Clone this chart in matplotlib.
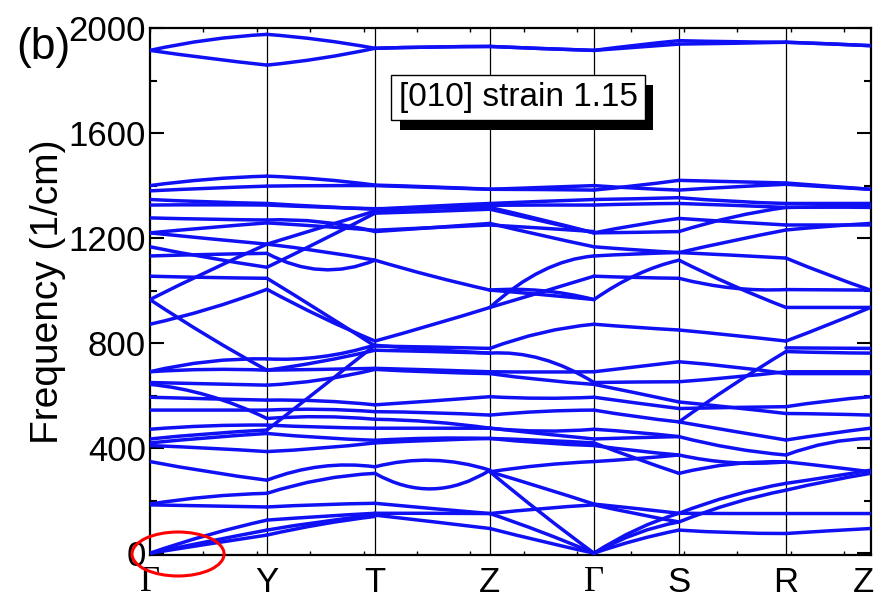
import matplotlib
matplotlib.use("Agg")
import matplotlib.pyplot as plt
import matplotlib.patheffects as pe
from matplotlib.path import Path
from matplotlib.patches import PathPatch, Ellipse
from matplotlib.ticker import MultipleLocator
from matplotlib.transforms import offset_copy

# high-symmetry points (path length, in arbitrary units)
k_nodes = [0.0, 117.0, 225.0, 340.0, 444.0, 529.0, 636.0, 720.5]
k_labels = ["\u0393", "Y", "T", "Z", "\u0393", "S", "R", "Z"]

# each branch piece: (freq at segment start, freq at middle, freq at segment end), 1/cm
seg_gamma_y = [
    (1915, 1955, 1976), (1915, 1885, 1859),
    (1400, 1424, 1436), (1380, 1390, 1398), (1347, 1338, 1332), (1326, 1327, 1326),
    (1277, 1272, 1269), (1220, 1240, 1258), (1220, 1198, 1177), (1167, 1125, 1089),
    (1132, 1138, 1142), (1055, 1050, 1047), (966, 1075, 1177), (966, 825, 697),
    (872, 930, 1005),
    (691, 730, 740), (691, 700, 697), (650, 645, 640), (643, 600, 513), (594, 588, 583),
    (545, 545, 545), (472, 485, 488), (435, 455, 469), (420, 440, 456), (410, 400, 387),
    (349, 310, 278), (187, 215, 228), (184, 180, 176), (0, 70, 126), (0, 45, 88), (0, 35, 69),
]
seg_y_t = [
    (1976, 1955, 1923), (1859, 1885, 1923),
    (1436, 1424, 1402), (1398, 1400, 1400), (1332, 1320, 1310), (1326, 1318, 1312),
    (1269, 1262, 1225), (1258, 1245, 1230), (1177, 1240, 1303), (1177, 1150, 1116),
    (1142, 1080, 1116), (1089, 1190, 1295), (1047, 920, 789), (1005, 900, 808),
    (740, 748, 793), (697, 730, 773), (697, 700, 704), (640, 660, 700), (583, 580, 565),
    (545, 548, 539), (513, 520, 510), (469, 630, 792), (488, 480, 476), (456, 440, 430),
    (387, 400, 420), (278, 330, 329), (228, 280, 304), (176, 185, 190), (126, 140, 152),
    (88, 120, 145), (69, 110, 140),
]
seg_t_z = [
    (1923, 1928, 1930), (1923, 1928, 1930),
    (1402, 1395, 1386), (1400, 1393, 1386), (1310, 1322, 1332), (1312, 1315, 1317),
    (1303, 1315, 1325), (1295, 1302, 1310), (1225, 1240, 1256), (1230, 1240, 1250),
    (1116, 1055, 1002), (808, 870, 936), (789, 785, 780),
    (792, 775, 762), (773, 768, 762), (704, 698, 691), (700, 690, 684), (565, 580, 596),
    (539, 535, 526), (510, 500, 476), (476, 476, 476), (430, 438, 437), (420, 430, 437),
    (304, 245, 316), (329, 354, 316), (190, 170, 151), (152, 152, 151), (145, 120, 94),
]
seg_z_gamma = [
    (1930, 1922, 1915), (1930, 1922, 1915),
    (1386, 1385, 1383), (1386, 1393, 1400), (1332, 1340, 1347), (1325, 1326, 1326),
    (1317, 1270, 1220), (1310, 1265, 1220), (1256, 1210, 1167), (1250, 1238, 1225),
    (1002, 1000, 966), (1002, 985, 966), (936, 1075, 1132), (936, 995, 1055), (780, 840, 872),
    (762, 740, 650), (691, 690, 691), (684, 660, 643), (596, 590, 594), (526, 540, 545),
    (476, 465, 472), (476, 455, 435), (437, 430, 420), (437, 420, 410), (310, 335, 349),
    (310, 250, 187), (151, 170, 184), (94, 45, 0), (151, 80, 0), (310, 150, 0),
]
seg_gamma_s = [
    (1915, 1935, 1952), (1915, 1927, 1939),
    (1383, 1400, 1420), (1400, 1390, 1383), (1347, 1350, 1354), (1326, 1330, 1332),
    (1220, 1250, 1275), (1220, 1222, 1225), (1167, 1155, 1145), (1132, 1140, 1145),
    (1055, 1050, 1047), (966, 1060, 1116), (872, 860, 850),
    (691, 710, 729), (650, 652, 653), (643, 610, 576), (594, 572, 551), (545, 520, 500),
    (472, 460, 444), (435, 440, 444), (420, 360, 304), (349, 360, 374), (410, 390, 374),
    (187, 170, 152), (184, 150, 119), (0, 75, 119), (0, 50, 88), (0, 90, 152),
]
seg_s_r = [
    (1952, 1948, 1946), (1939, 1942, 1946),
    (1420, 1415, 1410), (1383, 1395, 1405), (1354, 1340, 1332), (1332, 1325, 1317),
    (1275, 1262, 1250), (1225, 1280, 1317), (1145, 1190, 1231), (1145, 1135, 1124),
    (1116, 1020, 936), (1047, 1010, 1004), (850, 830, 808),
    (729, 710, 684), (653, 670, 691), (500, 640, 768), (576, 555, 532), (551, 555, 558),
    (500, 465, 431), (444, 400, 374), (374, 345, 348), (304, 340, 348),
    (152, 220, 266), (119, 190, 240), (152, 151, 151), (88, 78, 75),
]
seg_r_z = [
    (1946, 1940, 1933), (1946, 1940, 1933),
    (1410, 1398, 1386), (1405, 1395, 1386), (1332, 1332, 1332), (1317, 1320, 1325),
    (1317, 1318, 1317), (1250, 1250, 1250), (1231, 1245, 1256),
    (1124, 1060, 1002), (1004, 1003, 1002), (936, 936, 936), (808, 870, 936), (782, 781, 780),
    (768, 764, 762), (691, 691, 691), (684, 684, 684), (558, 580, 596), (532, 530, 526),
    (431, 455, 476), (374, 420, 437), (348, 330, 310), (266, 290, 316), (240, 275, 304),
    (151, 151, 151), (75, 85, 94),
]
segments = [seg_gamma_y, seg_y_t, seg_t_z, seg_z_gamma, seg_gamma_s, seg_s_r, seg_r_z]

SANS = ["Liberation Sans", "DejaVu Sans"]
SERIF = ["Liberation Serif", "DejaVu Serif"]

fig = plt.figure(figsize=(8.77, 6.05), dpi=100)
ax = fig.add_axes([0.171, 0.0826, 0.8216, 0.871])

blue = "#1010f5"
for i, seg in enumerate(segments):
    x0, x1 = k_nodes[i], k_nodes[i + 1]
    xm = 0.5 * (x0 + x1)
    for a, m, b in seg:
        # quadratic bezier through the midpoint value
        ctrl = 2 * m - 0.5 * (a + b)
        path = Path([(x0, a), (xm, ctrl), (x1, b)],
                    [Path.MOVETO, Path.CURVE3, Path.CURVE3])
        ax.add_patch(PathPatch(path, facecolor="none", edgecolor=blue,
                               lw=2.5, capstyle="round", zorder=3))

for k in k_nodes[1:-1]:
    ax.axvline(k, color="black", lw=0.9, zorder=2)

ax.set_xlim(k_nodes[0], k_nodes[-1])
ax.set_ylim(-7, 2000)

ax.set_yticks(range(0, 2001, 400))
ax.yaxis.set_minor_locator(MultipleLocator(200))
ax.tick_params(axis="y", which="major", direction="in", length=10, width=1.5,
               right=True, pad=3)
ax.tick_params(axis="y", which="minor", direction="in", length=5, width=1.5, right=True)
ax.set_xticks([])
ax.xaxis.set_minor_locator(MultipleLocator(53.4))
ax.tick_params(axis="x", which="minor", direction="in", length=3, width=1.0, top=True)
for sp in ax.spines.values():
    sp.set_linewidth(1.6)

for lbl in ax.get_yticklabels():
    lbl.set_fontfamily(SANS)
    lbl.set_fontsize(25)

ax.set_ylabel("Frequency (1/cm)", fontsize=28, family=SANS, labelpad=2)

for k, lab in zip(k_nodes, k_labels):
    fam = SERIF if lab == "\u0393" else SANS
    if k == k_nodes[-1]:
        tr = offset_copy(ax.get_xaxis_transform(), fig=fig, x=-5, y=0, units="points")
    else:
        tr = ax.get_xaxis_transform()
    ax.text(k, -0.02, lab, transform=tr, ha="center", va="top",
            fontsize=25, family=fam, clip_on=False)

fig.text(0.019, 0.922, "(b)", fontsize=32, family=SANS, va="center", ha="left")

box = ax.text(0.511, 0.868, "[010] strain 1.15", transform=ax.transAxes, ha="center",
              va="center", fontsize=24, family=SANS, zorder=6,
              bbox=dict(boxstyle="square,pad=0.22", fc="white", ec="black", lw=1.0))
box.get_bbox_patch().set_path_effects([
    pe.SimplePatchShadow(offset=(6, -7), shadow_rgbFace="black", alpha=1.0),
    pe.Normal(),
])

fig.add_artist(Ellipse((0.203, 0.0843), 0.105, 0.0727, transform=fig.transFigure,
                       fill=False, edgecolor="red", lw=2.2, zorder=10))

fig.savefig("out.png", dpi=100)
